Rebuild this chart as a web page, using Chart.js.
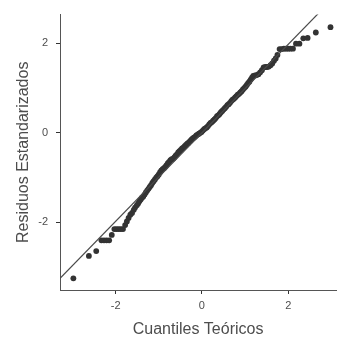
<!DOCTYPE html>
<html>
<head>
<meta charset="utf-8">
<script src="https://cdn.jsdelivr.net/npm/chart.js@4"></script>
<style>
  html, body { margin: 0; padding: 0; background: #fff; }
  #wrap { width: 339px; height: 339px; }
</style>
</head>
<body>
<div id="wrap"><canvas id="qqChart"></canvas></div>
<script>
// Cuantiles teóricos (eje x) y residuos estandarizados (eje y)
const theoreticalQuantiles = [
  -2.98, -2.62, -2.45, -2.33, -2.27, -2.21, -2.15, -2.09, -2.03, -1.98,
  -1.93, -1.88, -1.83, -1.78, -1.74, -1.70, -1.66, -1.62, -1.58, -1.55,
  -1.51, -1.48, -1.45, -1.42, -1.39, -1.36, -1.33, -1.30, -1.27, -1.24,
  -1.21, -1.18, -1.15, -1.12, -1.09, -1.06, -1.03, -1.00, -0.97, -0.94,
  -0.91, -0.88, -0.85, -0.82, -0.79, -0.76, -0.73, -0.70, -0.67, -0.64,
  -0.61, -0.58, -0.55, -0.52, -0.49, -0.46, -0.43, -0.40, -0.37, -0.34,
  -0.31, -0.28, -0.25, -0.22, -0.19, -0.16, -0.13, -0.10, -0.07, -0.04,
  -0.01, 0.02, 0.05, 0.08, 0.11, 0.14, 0.17, 0.20, 0.23, 0.26,
  0.29, 0.32, 0.35, 0.38, 0.41, 0.44, 0.47, 0.50, 0.53, 0.56,
  0.59, 0.62, 0.65, 0.68, 0.71, 0.74, 0.77, 0.80, 0.83, 0.86,
  0.89, 0.92, 0.95, 0.98, 1.01, 1.04, 1.07, 1.10, 1.13, 1.16,
  1.19, 1.23, 1.27, 1.31, 1.35, 1.39, 1.43, 1.47, 1.51, 1.55,
  1.59, 1.63, 1.67, 1.71, 1.75, 1.80, 1.85, 1.90, 1.95, 2.00,
  2.05, 2.11, 2.18, 2.26, 2.35, 2.45, 2.64, 2.98
];
const standardizedResiduals = [
  -3.25, -2.75, -2.64, -2.40, -2.40, -2.40, -2.40, -2.28, -2.15, -2.15,
  -2.15, -2.15, -2.15, -2.06, -1.98, -1.90, -1.83, -1.79, -1.72, -1.67,
  -1.62, -1.58, -1.53, -1.49, -1.45, -1.42, -1.38, -1.33, -1.29, -1.25,
  -1.21, -1.17, -1.12, -1.08, -1.04, -1.00, -0.97, -0.93, -0.88, -0.84,
  -0.81, -0.79, -0.76, -0.72, -0.68, -0.65, -0.61, -0.59, -0.58, -0.55,
  -0.51, -0.48, -0.44, -0.41, -0.38, -0.35, -0.33, -0.30, -0.27, -0.24,
  -0.22, -0.19, -0.16, -0.13, -0.11, -0.09, -0.06, -0.04, -0.02, 0.00,
  0.02, 0.05, 0.08, 0.10, 0.12, 0.15, 0.19, 0.22, 0.24, 0.27,
  0.30, 0.33, 0.37, 0.39, 0.42, 0.46, 0.49, 0.52, 0.55, 0.58,
  0.62, 0.64, 0.67, 0.71, 0.74, 0.76, 0.79, 0.82, 0.85, 0.87,
  0.90, 0.93, 0.97, 1.00, 1.03, 1.07, 1.11, 1.14, 1.19, 1.23,
  1.27, 1.28, 1.29, 1.31, 1.35, 1.40, 1.46, 1.47, 1.47, 1.48,
  1.51, 1.55, 1.61, 1.66, 1.74, 1.87, 1.87, 1.88, 1.88, 1.88,
  1.88, 1.88, 1.99, 1.99, 2.11, 2.12, 2.24, 2.36
];

// Línea de referencia (extremos en unidades de los datos)
const refLineX = [-3.4, 3.3];
const refLineY = [-3.36, 3.26];

const xTicks = [-2, 0, 2];
const yTicks = [-2, 0, 2];

const points = theoreticalQuantiles.map((x, i) => ({ x: x, y: standardizedResiduals[i] }));
const refLine = refLineX.map((x, i) => ({ x: x, y: refLineY[i] }));

const textColor = '#4d4d4d';
const fontFamily = '"Liberation Sans", Arial, sans-serif';

new Chart(document.getElementById('qqChart'), {
  type: 'scatter',
  data: {
    datasets: [
      {
        type: 'line',
        data: refLine,
        borderColor: '#4a4a4a',
        borderWidth: 1.2,
        pointRadius: 0,
        fill: false
      },
      {
        data: points,
        backgroundColor: '#333333',
        borderWidth: 0,
        pointRadius: 2.9,
        pointHoverRadius: 2.9
      }
    ]
  },
  options: {
    responsive: true,
    maintainAspectRatio: false,
    animation: false,
    layout: { padding: { top: 10, left: 0, right: 0, bottom: 0 } },
    plugins: {
      legend: { display: false },
      tooltip: { enabled: false }
    },
    scales: {
      x: {
        type: 'linear',
        min: -3.29,
        max: 3.11,
        afterBuildTicks: (scale) => { scale.ticks = xTicks.map(v => ({ value: v })); },
        afterFit: (scale) => { scale.height = 49; },
        grid: { drawOnChartArea: false, drawTicks: true, tickLength: 4, tickColor: '#333333', tickWidth: 1 },
        border: { color: '#555555', width: 1 },
        ticks: { color: textColor, padding: 5, font: { family: fontFamily, size: 11 } },
        title: {
          display: true,
          text: 'Cuantiles Teóricos',
          color: textColor,
          padding: { top: 0, bottom: 0 },
          font: { family: fontFamily, size: 16 }
        }
      },
      y: {
        type: 'linear',
        min: -3.51,
        max: 2.64,
        afterBuildTicks: (scale) => { scale.ticks = yTicks.map(v => ({ value: v })); },
        afterFit: (scale) => { scale.width = 60; },
        grid: { drawOnChartArea: false, drawTicks: true, tickLength: 4, tickColor: '#333333', tickWidth: 1 },
        border: { color: '#555555', width: 1 },
        ticks: { color: textColor, padding: 8, font: { family: fontFamily, size: 11 } },
        title: {
          display: true,
          text: 'Residuos Estandarizados',
          color: textColor,
          padding: { top: 14, bottom: 0 },
          font: { family: fontFamily, size: 16 }
        }
      }
    }
  }
});
</script>
</body>
</html>
